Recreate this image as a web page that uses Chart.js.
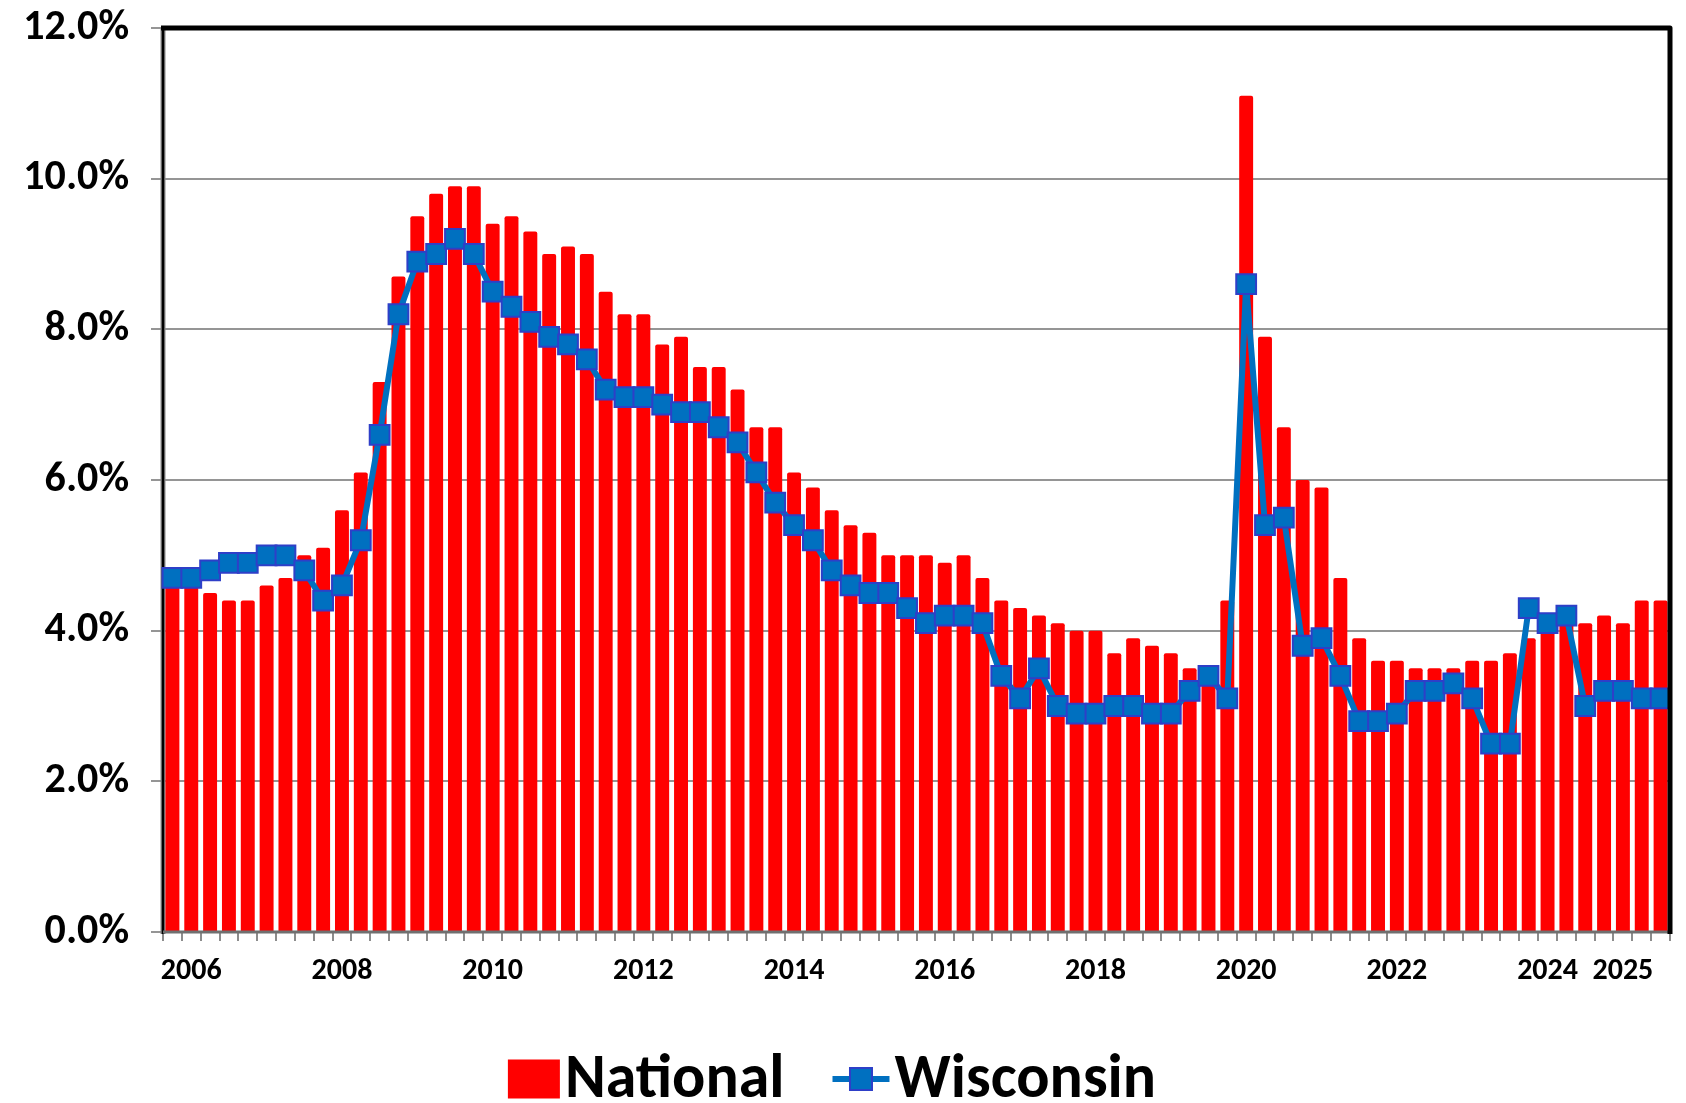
<!DOCTYPE html>
<html>
<head>
<meta charset="utf-8">
<script src="https://cdn.jsdelivr.net/npm/chart.js@4.4.1/dist/chart.umd.min.js"></script>
<style>
  html, body { margin: 0; padding: 0; background: #fff; }
  #wrap { width: 1686px; height: 1103px; }
</style>
</head>
<body>
<div id="wrap"><canvas id="rateChart" width="1686" height="1103"></canvas></div>
<script>
// quarterly unemployment rate, 2006 Q1 .. 2025 Q4
const quarters = [];
for (let y = 2006; y <= 2025; y++) {
  for (let q = 1; q <= 4; q++) quarters.push(y + ' Q' + q);
}

// year labels sit under the 2nd quarter
const yearTicks = ['2006 Q2', '2008 Q2', '2010 Q2', '2012 Q2', '2014 Q2', '2016 Q2',
  '2018 Q2', '2020 Q2', '2022 Q2', '2024 Q2', '2025 Q2'];

const percentTicks = [0, 2, 4, 6, 8, 10, 12];

const national = [
  4.7, 4.6, 4.5, 4.4, 4.4, 4.6, 4.7, 5.0, 5.1, 5.6, 6.1, 7.3,
  8.7, 9.5, 9.8, 9.9, 9.9, 9.4, 9.5, 9.3, 9.0, 9.1, 9.0,
  8.5, 8.2, 8.2, 7.8, 7.9, 7.5, 7.5, 7.2, 6.7, 6.7, 6.1,
  5.9, 5.6, 5.4, 5.3, 5.0, 5.0, 5.0, 4.9, 5.0, 4.7, 4.4, 4.3, 4.2, 4.1, 4.0, 4.0,
  3.7, 3.9, 3.8, 3.7, 3.5, 3.5, 4.4, 11.1, 7.9, 6.7, 6.0, 5.9, 4.7,
  3.9, 3.6, 3.6, 3.5, 3.5, 3.5, 3.6, 3.6, 3.7, 3.9, 4.0, 4.2, 4.1, 4.2, 4.1, 4.4, 4.4
];

const wisconsin = [
  4.7, 4.7, 4.8, 4.9, 4.9, 5.0, 5.0, 4.8, 4.4, 4.6, 5.2, 6.6,
  8.2, 8.9, 9.0, 9.2, 9.0, 8.5, 8.3, 8.1, 7.9, 7.8, 7.6,
  7.2, 7.1, 7.1, 7.0, 6.9, 6.9, 6.7, 6.5, 6.1, 5.7, 5.4,
  5.2, 4.8, 4.6, 4.5, 4.5, 4.3, 4.1, 4.2, 4.2, 4.1, 3.4, 3.1, 3.5, 3.0, 2.9, 2.9,
  3.0, 3.0, 2.9, 2.9, 3.2, 3.4, 3.1, 8.6, 5.4, 5.5, 3.8, 3.9, 3.4,
  2.8, 2.8, 2.9, 3.2, 3.2, 3.3, 3.1, 2.5, 2.5, 4.3, 4.1, 4.2, 3.0, 3.2, 3.2, 3.1, 3.1
];

const FONT = "Carlito, 'Liberation Sans Narrow', 'DejaVu Sans Condensed', sans-serif";
const RED = '#FF0000';
const BLUE = '#0070C0';
const MARKER_EDGE = '#2E3FC8';

// left axis goes under the markers, the rest of the frame on top of the bars
const framePlugin = {
  id: 'frame',
  beforeDatasetsDraw(chart) {
    const { ctx, chartArea: a } = chart;
    ctx.save();
    ctx.strokeStyle = '#8a8a8a';
    ctx.lineWidth = 5;
    ctx.beginPath(); ctx.moveTo(a.left, a.top); ctx.lineTo(a.left, a.bottom + 2); ctx.stroke();
    ctx.strokeStyle = '#000';
    ctx.lineWidth = 2.5;
    ctx.beginPath(); ctx.moveTo(a.left, a.top); ctx.lineTo(a.left, a.bottom + 2); ctx.stroke();
    ctx.restore();
  },
  afterDatasetsDraw(chart) {
    const { ctx, chartArea: a } = chart;
    ctx.save();
    ctx.strokeStyle = '#707070';
    ctx.lineWidth = 3;
    ctx.beginPath(); ctx.moveTo(a.left, a.bottom); ctx.lineTo(a.right, a.bottom); ctx.stroke();
    ctx.strokeStyle = '#000';
    ctx.lineWidth = 5;
    ctx.lineJoin = 'round';
    ctx.beginPath();
    ctx.moveTo(a.left - 2, a.top);
    ctx.lineTo(a.right, a.top);
    ctx.lineTo(a.right, a.bottom + 2);
    ctx.stroke();
    ctx.restore();
  }
};

const legendPlugin = {
  id: 'bottomLegend',
  afterDraw(chart) {
    const ctx = chart.ctx;
    const [bars, line] = chart.data.datasets;
    ctx.save();
    ctx.font = 'bold 62px ' + FONT;
    ctx.fillStyle = '#000';
    ctx.textBaseline = 'alphabetic';
    const boxW = 52, boxH = 39, iconW = 57, gap = 5, itemGap = 48;
    const w1 = ctx.measureText(bars.label).width;
    const w2 = ctx.measureText(line.label).width;
    const total = boxW + gap + w1 + itemGap + iconW + gap + w2;
    let x = 832 - total / 2;
    const base = 1097, mid = 1079;

    ctx.fillStyle = bars.backgroundColor;
    ctx.fillRect(x, mid - boxH / 2, boxW, boxH);
    x += boxW + gap;
    ctx.fillStyle = '#000';
    ctx.fillText(bars.label, x, base);
    x += w1 + itemGap;

    ctx.strokeStyle = line.borderColor;
    ctx.lineWidth = 6;
    ctx.beginPath(); ctx.moveTo(x, mid); ctx.lineTo(x + iconW, mid); ctx.stroke();
    const s = 22;
    ctx.fillStyle = line.pointBackgroundColor;
    ctx.fillRect(x + iconW / 2 - s / 2, mid - s / 2, s, s);
    ctx.strokeStyle = line.pointBorderColor;
    ctx.lineWidth = 2;
    ctx.strokeRect(x + iconW / 2 - s / 2, mid - s / 2, s, s);
    x += iconW + gap;
    ctx.fillStyle = '#000';
    ctx.fillText(line.label, x, base);
    ctx.restore();
  }
};

new Chart(document.getElementById('rateChart').getContext('2d'), {
  type: 'bar',
  data: {
    labels: quarters,
    datasets: [{
      label: 'National',
      data: national,
      backgroundColor: RED,
      barPercentage: 0.74,
      categoryPercentage: 1.0,
      borderRadius: 2,
      borderSkipped: 'start',
      order: 2
    }, {
      type: 'line',
      label: 'Wisconsin',
      data: wisconsin,
      borderColor: BLUE,
      borderWidth: 6,
      tension: 0,
      pointStyle: 'rect',
      pointRadius: 14,
      pointBackgroundColor: BLUE,
      pointBorderColor: MARKER_EDGE,
      pointBorderWidth: 2,
      order: 1
    }]
  },
  options: {
    responsive: false,
    animation: false,
    layout: { padding: { top: 28, right: 11, bottom: 100, left: 0 } },
    plugins: {
      legend: { display: false },
      tooltip: { enabled: false }
    },
    scales: {
      x: {
        offset: true,
        grid: { offset: true, drawOnChartArea: false, tickLength: 9, color: '#8c8c8c', lineWidth: 2 },
        border: { display: false },
        ticks: {
          autoSkip: false, maxRotation: 0, minRotation: 0, padding: 12,
          color: '#000',
          font: { family: FONT, size: 30, weight: 'bold' },
          callback: (v, i) => yearTicks.includes(quarters[i]) ? quarters[i].slice(0, 4) : ''
        },
        afterFit: s => { s.height = 71; }
      },
      y: {
        min: 0,
        max: 12,
        afterBuildTicks: s => { s.ticks = percentTicks.map(v => ({ value: v })); },
        grid: { color: '#959595', lineWidth: 2, tickLength: 12 },
        border: { display: false },
        ticks: {
          padding: 22,
          color: '#000',
          font: { family: FONT, size: 42, weight: 'bold' },
          callback: v => v.toFixed(1) + '%'
        },
        afterFit: s => {
          s.width = 163;
          s.paddingTop = 0;
          s.paddingBottom = 0;
        }
      }
    }
  },
  plugins: [framePlugin, legendPlugin]
});
</script>
</body>
</html>
